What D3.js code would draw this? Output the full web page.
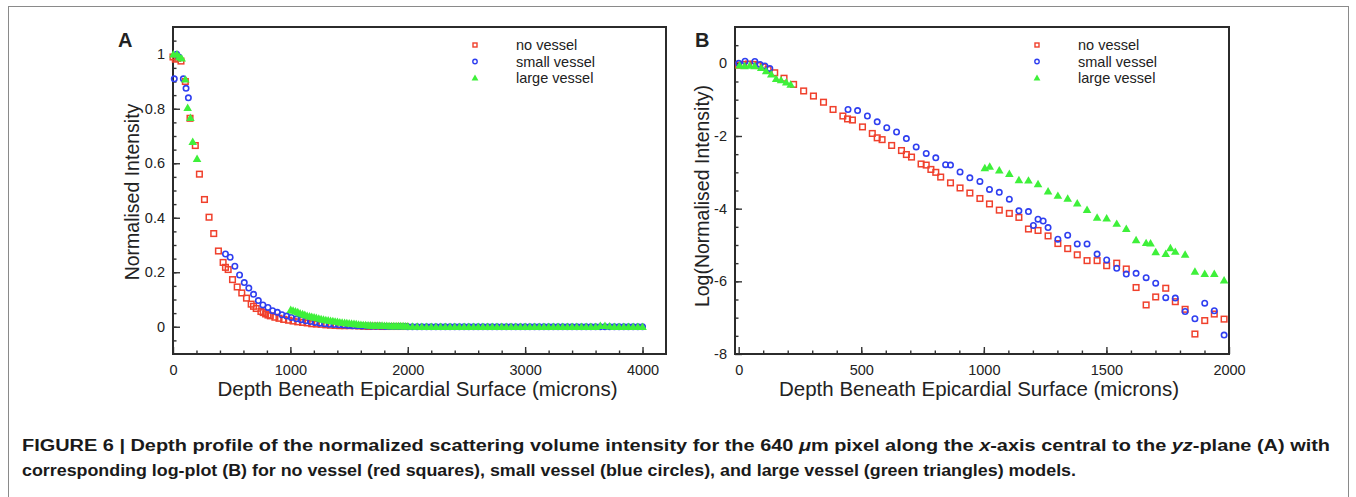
<!DOCTYPE html>
<head>
  <meta charset="utf-8">
  <style>
    body { margin: 0; background: #fff; }
    svg { display: block; }
    text { font-family: "Liberation Sans", Arial, sans-serif; fill: #222; }
    text.caption { font-family: "Liberation Sans", Arial, sans-serif; font-weight: bold; fill: #1a1a1a; }
  </style>
</head>
<svg width="1356" height="497"></svg>
<script src="https://d3js.org/d3.v7.min.js"></script>
<script>
  // ---- data ----
  // panel A: depth (microns) vs normalised intensity
  const redA = [[0,0.99],[20,0.982],[40,0.985],[68,0.975],[105,0.9],[145,0.765],[190,0.665],[225,0.56],[268,0.467],[307,0.402],[347,0.342],[387,0.278],[427,0.236],[447,0.218],[470,0.21],[507,0.173],[547,0.146],[586,0.124],[626,0.105],[666,0.083],[686,0.075],[709,0.067],[749,0.056],[769,0.052],[789,0.047],[809,0.043],[829,0.04],[868,0.035],[903,0.031],[943,0.027],[984,0.024],[1023,0.021],[1063,0.018],[1104,0.016],[1143,0.014],[1182,0.011],[1221,0.01],[1262,0.009],[1302,0.007],[1342,0.006],[1381,0.005],[1421,0.004],[1462,0.004],[1501,0.004],[1542,0.004],[1581,0.003],[1621,0.002],[1662,0.001],[1701,0.002],[1742,0.002],[1781,0.001],[1821,0.001],[1861,0.001],[1901,0.001],[1940,0.001],[1980,0.001]];
  const blueA = [[11,0.91],[31,1.0],[50,0.99],[88,0.91],[111,0.875],[131,0.84],[447,0.267],[487,0.255],[527,0.222],[567,0.19],[607,0.162],[646,0.142],[686,0.119],[727,0.096],[766,0.08],[809,0.071],[849,0.059],[889,0.053],[928,0.044],[968,0.039],[1008,0.034],[1051,0.029],[1091,0.026],[1131,0.022],[1171,0.019],[1211,0.016],[1251,0.013],[1291,0.011],[1331,0.009],[1371,0.008],[1411,0.007],[1451,0.006],[1491,0.005],[1531,0.004],[1571,0.004],[1611,0.003],[1651,0.003],[1691,0.002],[1731,0.002],[1771,0.002],[1811,0.001],[1851,0.001],[1891,0.001],[1931,0.001],[1971,0.001]];
  const greenA = [[3,1.0],[34,1.0],[54,0.99],[74,0.985],[105,0.908],[125,0.804],[148,0.767],[168,0.679],[205,0.617],[1003,0.0625],[1023,0.06],[1043,0.057],[1063,0.054],[1083,0.05],[1104,0.047],[1123,0.044],[1143,0.041],[1163,0.039],[1182,0.037],[1202,0.035],[1221,0.033],[1242,0.031],[1262,0.029],[1282,0.027],[1302,0.025],[1322,0.024],[1342,0.022],[1362,0.021],[1381,0.02],[1401,0.019],[1421,0.017],[1441,0.016],[1462,0.015],[1481,0.014],[1501,0.013],[1521,0.012],[1542,0.011],[1561,0.01],[1581,0.009],[1601,0.008],[1621,0.007],[1641,0.007],[1662,0.006],[1681,0.006],[1701,0.005],[1721,0.005],[1742,0.005],[1761,0.005],[1781,0.005],[1801,0.004],[1821,0.004],[1841,0.003],[1861,0.003],[1881,0.003],[1901,0.003],[1921,0.003],[1940,0.003],[1960,0.003],[1980,0.002]];
  // flat tail of panel A (blue and green lie on zero)
  const tailDepth = [2000,2040,2080,2120,2160,2200,2240,2280,2320,2360,2400,2440,2480,2520,2560,2600,2640,2680,2720,2760,2800,2840,2880,2920,2960,3000,3040,3080,3120,3160,3200,3240,3280,3320,3360,3400,3440,3480,3520,3560,3600,3640,3680,3720,3760,3800,3840,3880,3920,3960,4000];
  const blueTail = [0,0,0,0,0,0,0,0,0,0,0,0,0,0,0,0,0,0,0,0,0,0,0,0,0,0,0,0,0,0,0,0,0,0,0,0,0,0,0,0,0,0,0,0,0,0,0,0,0,0,0];
  const greenTail = [0.002,0.001,0.001,0,0,0,0,0,0,0,0,0,0,0,0,0,0,0,0,0,0,0,0,0,0,0,0,0,0,0,0,0,0,0,0,0,0,0,0,0,0,0.004,0.004,0.002,0,0,0,0,0,0,0];

  // panel B: depth (microns) vs log(normalised intensity)
  const redB = [[0,-0.05],[20,-0.03],[40,-0.02],[60,-0.03],[80,-0.06],[100,-0.1],[120,-0.17],[147,-0.26],[185,-0.41],[224,-0.58],[265,-0.76],[305,-0.9],[346,-1.07],[385,-1.27],[425,-1.45],[444,-1.53],[464,-1.56],[505,-1.75],[545,-1.93],[565,-2.05],[585,-2.1],[624,-2.26],[664,-2.4],[684,-2.51],[705,-2.58],[744,-2.77],[765,-2.8],[784,-2.92],[804,-3.0],[824,-3.13],[864,-3.29],[903,-3.43],[943,-3.57],[984,-3.72],[1023,-3.87],[1063,-4.04],[1104,-4.13],[1143,-4.24],[1182,-4.56],[1221,-4.6],[1262,-4.75],[1302,-4.96],[1342,-5.1],[1381,-5.27],[1421,-5.43],[1462,-5.43],[1501,-5.57],[1542,-5.5],[1581,-5.66],[1621,-6.17],[1662,-6.65],[1701,-6.43],[1742,-6.19],[1781,-6.56],[1821,-6.77],[1861,-7.45],[1901,-7.08],[1940,-6.9],[1980,-7.04]];
  const blueB = [[0,0],[26,0.06],[66,0.05],[87,-0.03],[107,-0.07],[127,-0.14],[446,-1.27],[485,-1.3],[525,-1.45],[565,-1.61],[604,-1.77],[644,-1.89],[684,-2.07],[724,-2.3],[765,-2.48],[804,-2.6],[844,-2.79],[864,-2.8],[903,-2.99],[943,-3.15],[984,-3.25],[1023,-3.47],[1063,-3.55],[1104,-3.74],[1143,-4.06],[1182,-4.08],[1202,-4.46],[1221,-4.29],[1242,-4.34],[1262,-4.52],[1302,-4.84],[1342,-4.73],[1381,-4.97],[1421,-4.97],[1462,-5.25],[1501,-5.41],[1542,-5.64],[1581,-5.8],[1621,-5.78],[1662,-5.9],[1701,-6.05],[1742,-6.45],[1781,-6.46],[1821,-6.83],[1861,-7.03],[1901,-6.6],[1940,-6.81],[1980,-7.48]];
  const greenB = [[4,-0.05],[24,-0.07],[45,-0.06],[65,-0.07],[92,-0.12],[112,-0.21],[133,-0.3],[153,-0.42],[173,-0.46],[194,-0.52],[212,-0.58],[1004,-2.88],[1024,-2.84],[1063,-2.94],[1104,-3.04],[1143,-3.21],[1182,-3.22],[1221,-3.32],[1262,-3.52],[1302,-3.64],[1342,-3.72],[1381,-3.85],[1421,-4.03],[1462,-4.24],[1501,-4.26],[1542,-4.41],[1581,-4.55],[1621,-4.86],[1662,-4.94],[1680,-4.95],[1701,-5.19],[1742,-5.24],[1761,-5.08],[1781,-5.18],[1821,-5.26],[1861,-5.73],[1901,-5.79],[1940,-5.79],[1980,-5.97]];

  const seriesNames = ["no vessel", "small vessel", "large vessel"];
  const seriesColors = ["#f0402c", "#2f3ff0", "#3ef03a"];

  const xTicksA = [0, 1000, 2000, 3000, 4000];
  const yTicksA = [0, 0.2, 0.4, 0.6, 0.8, 1];
  const xTicksB = [0, 500, 1000, 1500, 2000];
  const yTicksB = [-8, -6, -4, -2, 0];

  const captionLine1 = ["FIGURE 6 | Depth profile of the normalized scattering volume intensity for the 640 ", "μ", "m pixel along the ", "x", "-axis central to the ", "yz", "-plane (A) with"];
  const captionLine2 = "corresponding log-plot (B) for no vessel (red squares), small vessel (blue circles), and large vessel (green triangles) models.";

  const svg = d3.select("svg");

  // outer frame
  svg.append("rect")
    .attr("x", 8.5).attr("y", 6.5)
    .attr("width", 1340).attr("height", 500)
    .attr("fill", "none").attr("stroke", "#8a8a8a").attr("stroke-width", 1);

  function drawMarkers(g, data, k, x, y) {
    const col = seriesColors[k];
    if (k === 0) {
      g.selectAll(null).data(data).enter().append("rect")
        .attr("x", d => x(d[0]) - 2.8).attr("y", d => y(d[1]) - 2.8)
        .attr("width", 5.6).attr("height", 5.6)
        .attr("fill", "none").attr("stroke", col).attr("stroke-width", 1.5);
    } else if (k === 1) {
      g.selectAll(null).data(data).enter().append("circle")
        .attr("cx", d => x(d[0])).attr("cy", d => y(d[1])).attr("r", 2.7)
        .attr("fill", "none").attr("stroke", col).attr("stroke-width", 1.6);
    } else {
      const tri = d3.symbol(d3.symbolTriangle, 32)();
      g.selectAll(null).data(data).enter().append("path")
        .attr("d", tri)
        .attr("transform", d => "translate(" + x(d[0]) + "," + (y(d[1]) + 0.8) + ")")
        .attr("fill", col);
    }
  }

  function legendMarker(g, k, cx, cy) {
    const col = seriesColors[k];
    if (k === 0) {
      g.append("rect").attr("x", cx - 2).attr("y", cy - 2).attr("width", 4).attr("height", 4)
        .attr("fill", "none").attr("stroke", col).attr("stroke-width", 1.4);
    } else if (k === 1) {
      g.append("circle").attr("cx", cx).attr("cy", cy).attr("r", 2.2)
        .attr("fill", "none").attr("stroke", col).attr("stroke-width", 1.4);
    } else {
      g.append("path").attr("d", d3.symbol(d3.symbolTriangle, 20)())
        .attr("transform", "translate(" + cx + "," + (cy + 0.5) + ")").attr("fill", col);
    }
  }

  function panel(opt) {
    const g = svg.append("g");
    const x = d3.scaleLinear().domain(opt.xDomain).range([opt.left, opt.right]);
    const y = d3.scaleLinear().domain(opt.yDomain).range([opt.bottom, opt.top]);

    // minor ticks
    g.append("g").attr("transform", "translate(0," + opt.bottom + ")")
      .call(d3.axisBottom(x).tickValues(opt.xMinor).tickSize(-3.5).tickFormat(""));
    g.append("g").attr("transform", "translate(" + opt.left + ",0)")
      .call(d3.axisLeft(y).tickValues(opt.yMinor).tickSize(-3.5).tickFormat(""));

    // major ticks + labels
    g.append("g").attr("transform", "translate(0," + opt.bottom + ")")
      .call(d3.axisBottom(x).tickValues(opt.xTicks).tickSize(-7).tickPadding(11).tickFormat(d => String(d)));
    g.append("g").attr("transform", "translate(" + opt.left + ",0)")
      .call(d3.axisLeft(y).tickValues(opt.yTicks).tickSize(-7).tickPadding(8).tickFormat(d => String(d)));

    g.selectAll(".domain").remove();
    g.selectAll(".tick line").attr("stroke", "#333").attr("stroke-width", 1.4);
    g.selectAll(".tick text").attr("font-size", 14.5).attr("fill", "#222")
      .style("font-family", "'Liberation Sans', Arial, sans-serif");

    // plot box
    g.append("rect")
      .attr("x", opt.left).attr("y", opt.top)
      .attr("width", opt.right - opt.left).attr("height", opt.bottom - opt.top)
      .attr("fill", "none").attr("stroke", "#2b2b2b").attr("stroke-width", 2);

    // markers: red, blue, green
    const m = g.append("g");
    opt.series.forEach((s, k) => drawMarkers(m.append("g"), s, k, x, y));

    // axis titles
    g.append("text")
      .attr("x", (opt.left + opt.right) / 2 + opt.xTitleShift).attr("y", 396)
      .attr("text-anchor", "middle").attr("font-size", 20.5)
      .text("Depth Beneath Epicardial Surface (microns)");
    g.append("text")
      .attr("transform", "translate(" + opt.yTitleX + "," + opt.yTitleY + ") rotate(-90)")
      .attr("text-anchor", "middle").attr("font-size", 19.5)
      .text(opt.yTitle);

    // panel letter
    g.append("text").attr("x", opt.letterX).attr("y", 47)
      .attr("font-size", 20).attr("font-weight", "bold").text(opt.letter);

    // legend
    const lg = g.append("g");
    seriesNames.forEach((name, k) => {
      const cy = 45 + k * 16.5;
      legendMarker(lg, k, opt.legendX, cy);
      lg.append("text").attr("x", opt.legendX + 41).attr("y", cy + 5)
        .attr("font-size", 14.5).text(name);
    });
  }

  panel({
    left: 173, right: 666, top: 27, bottom: 354,
    xDomain: [0, 4200], yDomain: [-0.1, 1.1],
    xTicks: xTicksA, yTicks: yTicksA,
    xMinor: d3.range(200, 4200, 200), yMinor: d3.range(-0.05, 1.1, 0.05),
    series: [redA,
      blueA.concat(tailDepth.map((d, i) => [d, blueTail[i]])),
      greenA.concat(tailDepth.map((d, i) => [d, greenTail[i]]))],
    yTitle: "Normalised Intensity", yTitleX: 139, yTitleY: 192, xTitleShift: -2,
    letter: "A", letterX: 118, legendX: 475
  });

  panel({
    left: 735, right: 1229, top: 27, bottom: 354,
    xDomain: [-15, 2000], yDomain: [-8, 1],
    xTicks: xTicksB, yTicks: yTicksB,
    xMinor: d3.range(100, 2000, 100), yMinor: d3.range(-7.5, 1, 0.5),
    series: [redB, blueB, greenB],
    yTitle: "Log(Normalised Intensity)", yTitleX: 709, yTitleY: 196, xTitleShift: -3,
    letter: "B", letterX: 695, legendX: 1037
  });

  // caption (condensed bold in the original, squeezed to the same width)
  const c1 = svg.append("text").attr("class", "caption")
    .attr("x", 22).attr("y", 451).attr("font-size", 16)
    .attr("textLength", 1308).attr("lengthAdjust", "spacingAndGlyphs");
  captionLine1.forEach((s, i) => {
    c1.append("tspan").attr("font-style", i % 2 === 1 ? "italic" : null).text(s);
  });
  svg.append("text").attr("class", "caption")
    .attr("x", 22).attr("y", 476).attr("font-size", 16)
    .attr("textLength", 1054).attr("lengthAdjust", "spacingAndGlyphs")
    .text(captionLine2);
</script>
